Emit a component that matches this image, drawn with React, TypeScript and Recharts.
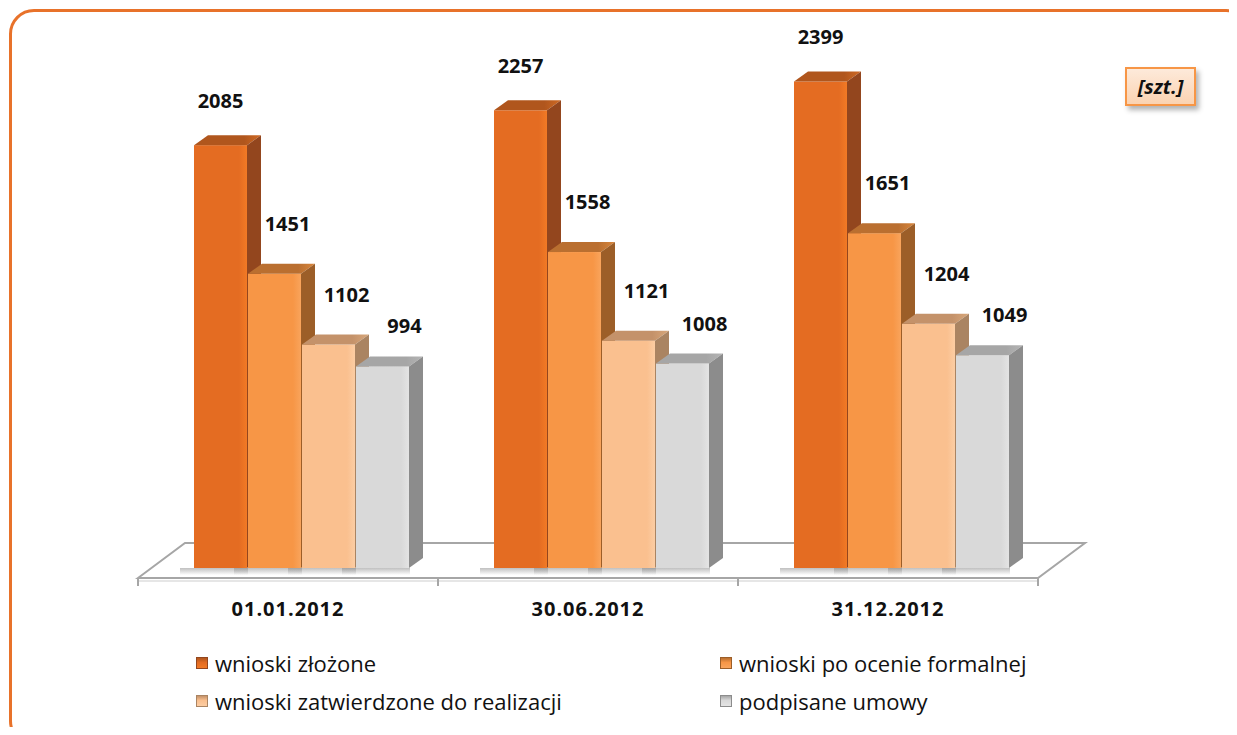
import { BarChart, Bar, XAxis, YAxis, Legend, LabelList } from "recharts";

const categories = ["01.01.2012", "30.06.2012", "31.12.2012"];
const seriesNames = [
  "wnioski złożone",
  "wnioski po ocenie formalnej",
  "wnioski zatwierdzone do realizacji",
  "podpisane umowy",
];
const zlozone = [2085, 2257, 2399];
const poOcenie = [1451, 1558, 1651];
const zatwierdzone = [1102, 1121, 1204];
const umowy = [994, 1008, 1049];

const data = categories.map((cat, i) => ({
  cat,
  s0: zlozone[i],
  s1: poOcenie[i],
  s2: zatwierdzone[i],
  s3: umowy[i],
}));

const pal = [
  { front: "#E46C22", light: "#F27A25", top: "#B0561D", top2: "#D06A24", side: "#93461E" },
  { front: "#F79646", light: "#F9A45C", top: "#BA6F30", top2: "#D8863C", side: "#9C5E28" },
  { front: "#FAC08F", light: "#FCCDA3", top: "#C4926A", top2: "#D8A77A", side: "#AA8462" },
  { front: "#D9D9D9", light: "#E4E4E4", top: "#A6A6A6", top2: "#B4B4B4", side: "#8C8C8C" },
];
// label offsets (from front-top centre of a bar), per series
const labelShift = [
  { dx: 0, dy: -44 },
  { dx: 13, dy: -50 },
  { dx: 18, dy: -50 },
  { dx: 22, dy: -40 },
];

const W = 1237;
const H = 735;
const M = { top: 61, right: 185, bottom: 137, left: 152 };
const AXIS_H = 30;
const BASE = H - M.bottom - AXIS_H; // 568
const DX = 14;
const DY = 10;
const FONT = "'Open Sans', 'DejaVu Sans', sans-serif";

const prism = (s: number) => (props: any) => {
  const { x, y, width, height } = props;
  if (!height || height <= 0) return null;
  const p = pal[s];
  return (
    <g>
      <rect x={x - 14} y={y + height} width={width + 15} height={7} fill="url(#shadow)" />
      <rect x={x} y={y} width={width} height={height} fill={`url(#front${s})`} />
      <polygon
        points={`${x},${y} ${x + DX},${y - DY} ${x + width + DX},${y - DY} ${x + width},${y}`}
        fill={`url(#top${s})`}
      />
      <polygon
        points={`${x + width},${y} ${x + width + DX},${y - DY} ${x + width + DX},${y + height - DY} ${x + width},${y + height}`}
        fill={p.side}
      />
    </g>
  );
};

const valueLabel = (s: number) => (props: any) => {
  const { x, y, width, value } = props;
  return (
    <text
      x={x + width / 2 + labelShift[s].dx}
      y={y + labelShift[s].dy + 7}
      textAnchor="middle"
      fontFamily={FONT}
      fontWeight={700}
      fontSize={20}
      fill="#111"
    >
      {value}
    </text>
  );
};

const CatTick = (props: any) => {
  const { x, y, payload } = props;
  return (
    <text
      x={x - DX}
      y={y + 40}
      textAnchor="middle"
      fontFamily={FONT}
      fontWeight={700}
      fontSize={20}
      letterSpacing={1}
      fill="#111"
    >
      {payload.value}
    </text>
  );
};

function LegendGrid({ payload }: any) {
  const items = [...(payload || [])].sort(
    (a: any, b: any) => seriesNames.indexOf(a.value) - seriesNames.indexOf(b.value),
  );
  return (
    <div
      style={{
        display: "grid",
        gridTemplateColumns: "524px 524px",
        rowGap: 14,
        fontFamily: FONT,
        fontSize: 22,
        color: "#111",
      }}
    >
      {items.map((it: any) => {
        const p = pal[Math.max(0, seriesNames.indexOf(it.value))];
        return (
          <div key={it.value} style={{ display: "flex", alignItems: "center", gap: 7, height: 24 }}>
            <span
              style={{
                width: 12,
                height: 12,
                boxSizing: "border-box",
                border: `1px solid ${p.side}`,
                background: `linear-gradient(180deg, ${p.top} 0%, ${p.front} 45%, ${p.light} 100%)`,
                flexShrink: 0,
              }}
            />
            <span style={{ lineHeight: "24px" }}>{it.value}</span>
          </div>
        );
      })}
    </div>
  );
}

function Floor() {
  const plotW = W - M.left - M.right;
  const fy = BASE + 10;
  const by = BASE - 25;
  const fx0 = M.left - DX;
  const fx1 = fx0 + plotW;
  const bx0 = M.left + 33;
  const bx1 = bx0 + plotW;
  const slot = plotW / categories.length;
  return (
    <svg width={W} height={H} style={{ position: "absolute", left: 0, top: 0 }}>
      <polygon
        points={`${fx0},${fy} ${bx0},${by} ${bx1},${by} ${fx1},${fy}`}
        fill="#fff"
        stroke="#A6A6A6"
        strokeWidth={2}
      />
      <line x1={fx0} y1={fy + 3} x2={fx1} y2={fy + 3} stroke="#E6E6E6" strokeWidth={2} />
      {categories.concat([""]).map((_, i) => (
        <line
          key={i}
          x1={fx0 + i * slot}
          y1={fy}
          x2={fx0 + i * slot}
          y2={fy + 8}
          stroke="#A6A6A6"
          strokeWidth={2}
        />
      ))}
    </svg>
  );
}

export default function App() {
  return (
    <div
      style={{
        position: "relative",
        width: W,
        height: H,
        margin: -8,
        overflow: "hidden",
        background: "#fff",
      }}
    >
      <div
        style={{
          position: "absolute",
          left: 9,
          top: 9,
          width: 1236,
          height: 731,
          border: "3px solid #E8722A",
          borderRadius: 25,
        }}
      />
      <Floor />
      <div style={{ position: "absolute", left: 0, top: 0 }}>
        <BarChart
          width={W}
          height={H}
          data={data}
          margin={M}
          barCategoryGap={42}
          barGap={1}
        >
          <defs>
            {pal.map((p, i) => (
              <linearGradient key={`f${i}`} id={`front${i}`} x1="0" y1="0" x2="1" y2="0">
                <stop offset="0%" stopColor={p.front} />
                <stop offset="85%" stopColor={p.front} />
                <stop offset="100%" stopColor={p.light} />
              </linearGradient>
            ))}
            {pal.map((p, i) => (
              <linearGradient key={`t${i}`} id={`top${i}`} x1="0" y1="0" x2="1" y2="0">
                <stop offset="0%" stopColor={p.top} />
                <stop offset="75%" stopColor={p.top} />
                <stop offset="100%" stopColor={p.top2} />
              </linearGradient>
            ))}
            <linearGradient id="shadow" x1="0" y1="0" x2="0" y2="1">
              <stop offset="0%" stopColor="#8C8C8C" stopOpacity={0.55} />
              <stop offset="100%" stopColor="#8C8C8C" stopOpacity={0} />
            </linearGradient>
          </defs>
          <XAxis
            dataKey="cat"
            axisLine={false}
            tickLine={false}
            height={AXIS_H}
            tick={<CatTick />}
            interval={0}
          />
          <YAxis hide domain={[0, 2500]} />
          <Legend
            layout="horizontal"
            verticalAlign="middle"
            align="center"
            wrapperStyle={{ position: "absolute", left: 196, top: 651, width: 1048 }}
            content={(props: any) => <LegendGrid payload={props.payload} />}
          />
          {["s0", "s1", "s2", "s3"].map((k, i) => (
            <Bar
              key={k}
              dataKey={k}
              name={seriesNames[i]}
              fill={pal[i].front}
              shape={prism(i)}
              isAnimationActive={false}
            >
              <LabelList dataKey={k} content={valueLabel(i)} />
            </Bar>
          ))}
        </BarChart>
      </div>
      <div
        style={{
          position: "absolute",
          left: 1125,
          top: 67,
          width: 71,
          height: 39,
          boxSizing: "border-box",
          border: "2px solid #F79646",
          background: "linear-gradient(180deg, #FDEADA 0%, #FBD3B2 100%)",
          boxShadow: "3px 4px 5px rgba(0,0,0,0.3)",
          display: "flex",
          alignItems: "center",
          justifyContent: "center",
          fontFamily: FONT,
          fontStyle: "italic",
          fontWeight: 700,
          fontSize: 20,
          color: "#111",
        }}
      >
        [szt.]
      </div>
    </div>
  );
}
